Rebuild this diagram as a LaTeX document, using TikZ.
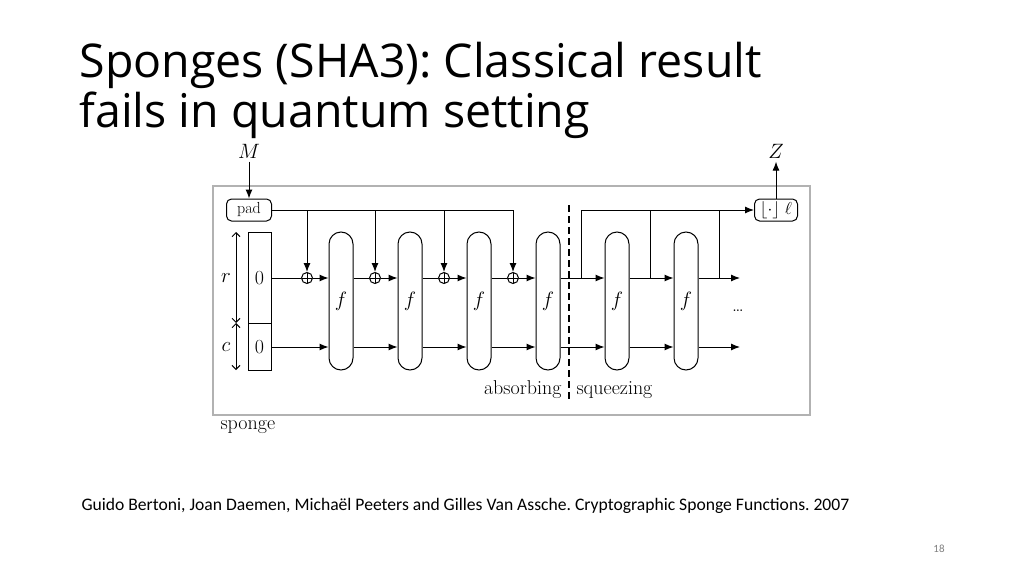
\documentclass[tikz,border=0pt]{standalone}
\usepackage{fontspec}
\setmainfont{Latin Modern Roman}
\newfontfamily\titlefont{Open Sans}
\newfontfamily\citefont{Carlito}
\usetikzlibrary{arrows.meta}
\begin{document}
\frenchspacing
\begin{tikzpicture}[x=1pt,y=-1pt,
  ln/.style={line width=1pt},
  arr/.style={ln,-{Latex[length=9pt,width=7pt]}},
  fbox/.style={draw,ln,rounded corners=12pt,minimum width=24pt,minimum height=138pt,inner sep=0pt,font=\fontsize{20}{24}\selectfont},
  xr/.style={draw,ln,circle,minimum size=11pt,inner sep=0pt,path picture={\draw[ln] (path picture bounding box.north)--(path picture bounding box.south) (path picture bounding box.west)--(path picture bounding box.east);}},
  lab/.style={font=\fontsize{20}{24}\selectfont},
  sbox/.style={draw,ln,rounded corners=5pt,minimum width=45pt,minimum height=22pt,inner sep=0pt,font=\fontsize{16}{18}\selectfont}]
\useasboundingbox[fill=white] (0,0) rectangle (1024,575);
\node[anchor=base west,font=\titlefont\fontsize{46.5}{50}\selectfont] (title) at (76,78) {Sponges (SHA3): Classical result};
\node[anchor=base west,font=\titlefont\fontsize{46.5}{50}\selectfont] (title2) at (76,128) {fails in quantum setting};
\draw[gray!60,line width=1.2pt] (213,186) rectangle (810,415);
\node[sbox] (pad) at (249,210) {pad};
\node[sbox,minimum width=43pt] (out) at (776,210) {$\lfloor\cdot\rfloor\ \ell$};
\node[lab] (M) at (249,151) {$M$};
\node[lab] (Z) at (776,151) {$Z$};
\draw[arr] (M) -- (pad);
\draw[arr] (out) -- (Z);
\node[draw,ln,minimum width=23pt,minimum height=91pt,inner sep=0pt,anchor=north] (rb) at (259.5,232) {};
\node[draw,ln,minimum width=23pt,minimum height=47pt,inner sep=0pt,anchor=north] (cb) at (259.5,323) {};
\node[lab] (r0) at (259.5,278) {0};
\node[lab] (c0) at (259.5,347) {0};
\coordinate (ra) at (236,232); \coordinate (rm) at (236,323); \coordinate (rc) at (236,370);
\draw[ln,{Straight Barb[length=4pt]}-{Straight Barb[length=4pt]}] (ra) -- (rm);
\draw[ln,{Straight Barb[length=4pt]}-{Straight Barb[length=4pt]}] (rm) -- (rc);
\node[lab] (rl) at (226,278) {$r$};
\node[lab] (cl) at (226,347) {$c$};
\foreach \i/\x in {1/341,2/410,3/479,4/548,5/617,6/686} {\node[fbox] (f\i) at (\x,301) {$f$};}
\foreach \i/\x in {1/307,2/375,3/444,4/513} {\node[xr] (x\i) at (\x,278) {};}
% r row
\draw[ln] (rb.east|-r0) -- (x1);
\draw[arr] (x1) -- (f1.west|-x1);
\draw[ln] (f1.east|-x2) -- (x2); \draw[arr] (x2) -- (f2.west|-x2);
\draw[ln] (f2.east|-x3) -- (x3); \draw[arr] (x3) -- (f3.west|-x3);
\draw[ln] (f3.east|-x4) -- (x4); \draw[arr] (x4) -- (f4.west|-x4);
\draw[arr] (f4.east|-x4) -- (f5.west|-x4);
\draw[arr] (f5.east|-x4) -- (f6.west|-x4);
\coordinate (rend) at (740,278);
\draw[arr] (f6.east|-x4) -- (rend);
% c row
\draw[arr] (cb.east|-c0) -- (f1.west|-c0);
\foreach \a/\b in {f1/f2,f2/f3,f3/f4,f4/f5,f5/f6} {\draw[arr] (\a.east|-c0) -- (\b.west|-c0);}
\coordinate (cend) at (740,347);
\draw[arr] (f6.east|-c0) -- (cend);
% pad line
\coordinate (pe) at (513,210);
\draw[ln] (pad.east) -- (pe);
\foreach \i in {1,2,3,4} {\draw[arr] (x\i|-pad) -- (x\i.north);}
% squeeze
\coordinate (s1) at (581,278); \coordinate (s1t) at (581,210);
\draw[ln] (s1) -- (s1t);
\draw[arr] (s1t) -- (out.west);
\foreach \x in {650,719} {\draw[ln] (\x,278) -- (\x,210);}
\draw[line width=1.8pt,dash pattern=on 7pt off 4pt] (569,205) -- (569,400);
\node[lab] (dots) at (738,311) {\textellipsis};
\node[lab,anchor=east] (abs) at (565,390) {absorbing};
\node[lab,anchor=west] (sq) at (573,390) {squeezing};
\node[lab,anchor=west] (sp) at (217,427) {sponge};
\node[anchor=base west,font=\citefont\fontsize{17.6}{20}\selectfont] (cite) at (78,510) {Guido Bertoni, Joan Daemen, Michaël Peeters and Gilles Van Assche. Cryptographic Sponge Functions. 2007};
\node[font=\citefont\fontsize{11}{12}\selectfont,text=gray] (pg) at (939,549) {18};
\end{tikzpicture}
\end{document}
